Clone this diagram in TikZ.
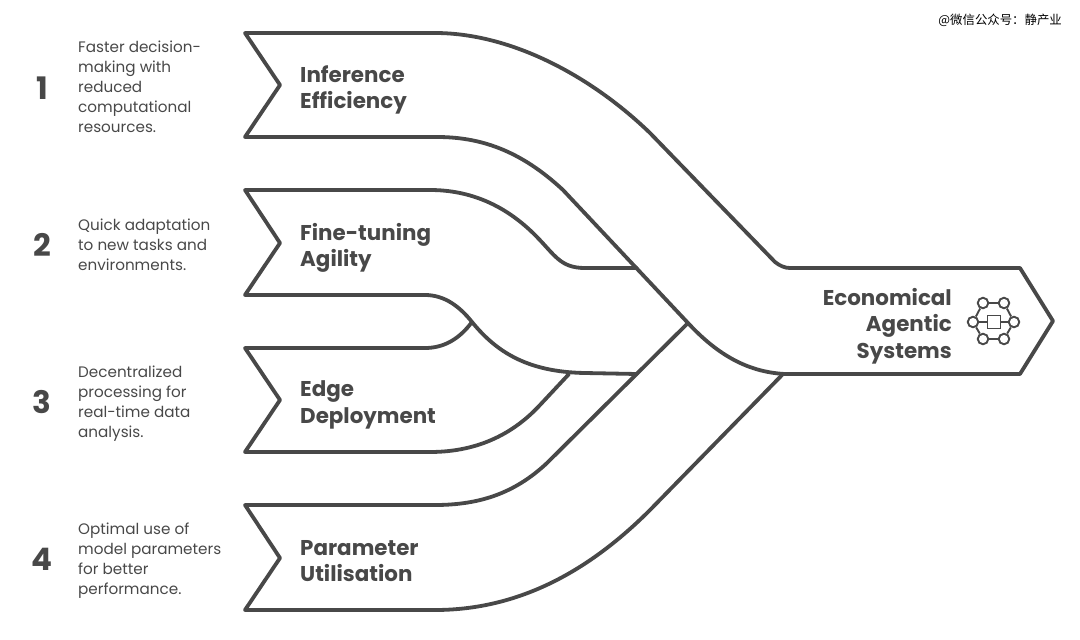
\documentclass[tikz,border=0pt]{standalone}
\usepackage{fontspec}
\setmainfont{Poppins}
\newfontfamily\cjk{Noto Sans CJK SC}
\usepackage{xcolor}
\definecolor{inkgrey}{HTML}{484848}
\usepackage{tikz}
\usetikzlibrary{positioning}

\begin{document}
\begin{tikzpicture}[
    x=1pt, y=-1pt,
    ribbon/.style={draw=inkgrey, line width=3.8pt, line join=round, line cap=round},
    title/.style={anchor=west, align=left, text=inkgrey, inner sep=0pt, font=\fontsize{21.4}{26.3}\selectfont\bfseries},
    number/.style={text=inkgrey, inner sep=0pt, font=\fontsize{31}{31}\selectfont\bfseries},
    note/.style={anchor=west, align=left, text=inkgrey, inner sep=0pt, font=\fontsize{15.2}{20}\selectfont},
    hub/.style={draw=inkgrey, fill=white, circle, line width=1.9pt, minimum size=10.5pt, inner sep=0pt},
    link/.style={draw=inkgrey, line width=1.9pt}
]
\useasboundingbox (0,0) rectangle (1080,640);

% Ribbon 1 and the merged arrow
\draw[ribbon] (245,33) -- (435,33) .. controls (510,33) and (590,75) .. (650,133) -- (775,262)
    .. controls (780,266) and (785,268) .. (790,268) -- (1020,268) -- (1053,321) -- (1020,374) -- (785,374)
    .. controls (745,372) and (715,352) .. (688,323) -- (563,190)
    .. controls (520,150) and (480,137) .. (437,137) -- (245,137) -- (280,85) -- cycle;

% Ribbon 2
\draw[ribbon] (637,268) -- (585,268) .. controls (560,268) and (555,255) .. (535,235)
    .. controls (505,205) and (470,190) .. (430,190) -- (245,190) -- (280,243) -- (245,295) -- (425,295)
    .. controls (445,295) and (460,307) .. (472,322) .. controls (495,350) and (525,372) .. (585,373) -- (637,374);

% Ribbon 3
\draw[ribbon] (472,322) .. controls (460,338) and (445,348) .. (425,348) -- (245,348) -- (280,400) -- (245,452) -- (430,452)
    .. controls (480,452) and (515,432) .. (540,405) -- (569,374);

% Ribbon 4
\draw[ribbon] (688,323) -- (547,463) .. controls (515,493) and (480,505) .. (435,505) -- (245,505) -- (280,558) -- (245,610) -- (435,610)
    .. controls (520,610) and (590,570) .. (650,510) -- (783,374);

% Titles
\node (inference) [title] at (300,90) {Inference\\Efficiency};
\node (finetuning) [title] at (300,248) {Fine-tuning\\Agility};
\node (edge) [title] at (300,405) {Edge\\Deployment};
\node (parameter) [title] at (300,561) {Parameter\\Utilisation};
\node (economical) [title, anchor=east, align=right] at (952,326) {Economical\\Agentic\\Systems};

% Numbers
\node (one) [number] at (42,88) {1};
\node (two) [number] at (42,245) {2};
\node (three) [number] at (42,402) {3};
\node (four) [number] at (42,559) {4};

% Notes
\node (noteone) [note] at (78,87) {Faster decision-\\making with\\reduced\\computational\\resources.};
\node (notetwo) [note] at (78,245) {Quick adaptation\\to new tasks and\\environments.};
\node (notethree) [note] at (78,403.5) {Decentralized\\processing for\\real-time data\\analysis.};
\node (notefour) [note] at (78,560.5) {Optimal use of\\model parameters\\for better\\performance.};

% Icon
\node (hubw) [hub] at (973,322) {};
\node (hube) [hub] at (1014,322) {};
\node (hubnw) [hub] at (983,303) {};
\node (hubne) [hub] at (1004,303) {};
\node (hubsw) [hub] at (983,339) {};
\node (hubse) [hub] at (1004,339) {};
\node (core) [draw=inkgrey, line width=1.9pt, minimum size=13pt, inner sep=0pt] at (994,322) {};
\draw[link] (hubw) -- (core);
\draw[link] (core) -- (hube);
\draw[link] (hubw) -- (hubnw);
\draw[link] (hubnw) -- (hubne);
\draw[link] (hubne) -- (hube);
\draw[link] (hube) -- (hubse);
\draw[link] (hubse) -- (hubsw);
\draw[link] (hubsw) -- (hubw);

% Watermark
\node (mark) [anchor=east, inner sep=0pt, font=\fontsize{12.4}{12.4}\selectfont\cjk] at (1062,20) {@微信公众号：静产业};
\end{tikzpicture}
\end{document}
